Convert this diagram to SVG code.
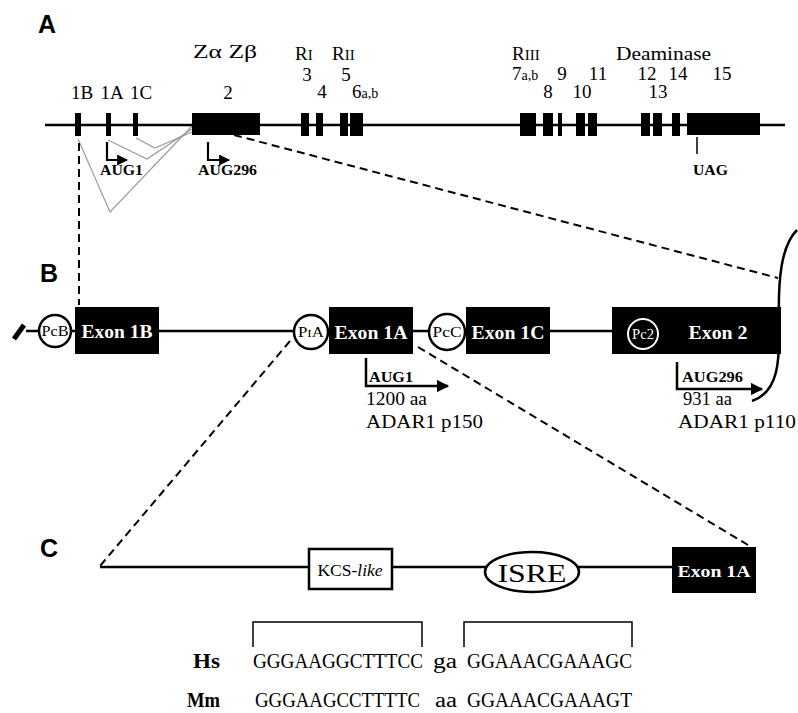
<svg xmlns="http://www.w3.org/2000/svg" width="798" height="713" viewBox="0 0 798 713">
<style>
.lbl{font-family:"Liberation Sans",Arial,sans-serif;font-weight:bold;font-size:25px;fill:#000}
.s{font-family:"Liberation Serif","Times New Roman",serif;fill:#000}
.n{font-size:19px}
.sm{font-size:14px}
.b{font-weight:bold}
.w{fill:#fff}
.ln{stroke:#000;stroke-width:2.5;fill:none}
.dash{stroke:#000;stroke-width:2;fill:none;stroke-dasharray:8 5}
.grey{stroke:#9a9a9a;stroke-width:1.2;fill:none}
.ex{fill:#000}
.circ{fill:#fff;stroke:#000;stroke-width:2.5}
</style>
<defs>
<marker id="ah" viewBox="0 0 10 10" refX="9" refY="5" markerWidth="5" markerHeight="5" orient="auto" markerUnits="strokeWidth">
<path d="M0,0 L10,5 L0,10 z" fill="#000"/>
</marker>
</defs>
<rect width="798" height="713" fill="#fff"/>

<!-- Panel labels -->
<text class="lbl" x="38" y="33">A</text>
<text class="lbl" x="40" y="282">B</text>
<text class="lbl" x="40" y="557">C</text>

<!-- connectors -->
<g id="connectors">
<path class="grey" d="M78,139 L110,212 L192,126"/>
<path class="grey" d="M108,140 L147,159 L192,129"/>
<path class="grey" d="M136,138 L155,148 L192,132"/>
<line class="dash" x1="79" y1="143" x2="79" y2="305"/>
<line class="dash" x1="234" y1="135" x2="778" y2="278"/>
<line class="dash" x1="290" y1="341" x2="100" y2="566"/>
<line class="dash" x1="418" y1="347" x2="748" y2="545"/>
</g>

<!-- Panel A -->
<g id="panelA">
<line class="ln" x1="45" y1="125" x2="785" y2="125"/>
<g id="exonA1B"><rect class="ex" x="75" y="113" width="6" height="23"/></g>
<g id="exonA1A"><rect class="ex" x="106" y="113" width="5" height="23"/></g>
<g id="exonA1C"><rect class="ex" x="133" y="113" width="5" height="23"/></g>
<g id="exonA2"><rect class="ex" x="192" y="113" width="68" height="22"/></g>
<g id="exonA3"><rect class="ex" x="301" y="113" width="8" height="23"/></g>
<g id="exonA4"><rect class="ex" x="316" y="113" width="7" height="23"/></g>
<g id="exonA5"><rect class="ex" x="340" y="113" width="8" height="23"/></g>
<g id="exonA6"><rect class="ex" x="350" y="113" width="13" height="23"/></g>
<g id="exonA7"><rect class="ex" x="520" y="113" width="16" height="23"/></g>
<g id="exonA8"><rect class="ex" x="543" y="113" width="10" height="23"/></g>
<g id="exonA9"><rect class="ex" x="558" y="113" width="4" height="23"/></g>
<g id="exonA10"><rect class="ex" x="576" y="113" width="9" height="23"/></g>
<g id="exonA11"><rect class="ex" x="588" y="113" width="9" height="23"/></g>
<g id="exonA12"><rect class="ex" x="641" y="113" width="9" height="23"/></g>
<g id="exonA13"><rect class="ex" x="653" y="113" width="9" height="23"/></g>
<g id="exonA14"><rect class="ex" x="672" y="113" width="8" height="23"/></g>
<g id="exonA15"><rect class="ex" x="687" y="113" width="73" height="22"/></g>

<text class="s n" x="193" y="58" textLength="64" lengthAdjust="spacingAndGlyphs">Zα  Zβ</text>
<text class="s n" x="82" y="99" text-anchor="middle">1B</text>
<text class="s n" x="112" y="99" text-anchor="middle">1A</text>
<text class="s n" x="141" y="99" text-anchor="middle">1C</text>
<text class="s n" x="228" y="99" text-anchor="middle">2</text>

<text class="s n" x="295" y="60">R<tspan font-size="15">I</tspan></text>
<text class="s n" x="332" y="60">R<tspan font-size="15">II</tspan></text>
<text class="s n" x="307" y="81" text-anchor="middle">3</text>
<text class="s n" x="322" y="98" text-anchor="middle">4</text>
<text class="s n" x="346" y="81" text-anchor="middle">5</text>
<text class="s n" x="352" y="98">6<tspan class="sm">a,b</tspan></text>

<text class="s n" x="512" y="60">R<tspan font-size="15">III</tspan></text>
<text class="s n" x="512" y="80">7<tspan class="sm">a,b</tspan></text>
<text class="s n" x="548" y="98" text-anchor="middle">8</text>
<text class="s n" x="562" y="80" text-anchor="middle">9</text>
<text class="s n" x="582" y="98" text-anchor="middle">10</text>
<text class="s n" x="598" y="80" text-anchor="middle">11</text>
<text class="s n" x="616" y="60" textLength="95" lengthAdjust="spacingAndGlyphs">Deaminase</text>
<text class="s n" x="647" y="80" text-anchor="middle">12</text>
<text class="s n" x="658" y="98" text-anchor="middle">13</text>
<text class="s n" x="678" y="80" text-anchor="middle">14</text>
<text class="s n" x="722" y="80" text-anchor="middle">15</text>

<g id="aug1A">
<path d="M107,142 V160 H127" stroke="#000" stroke-width="2.2" fill="none" marker-end="url(#ah)"/>
<text class="s b" x="100" y="175" font-size="14" textLength="43" lengthAdjust="spacingAndGlyphs">AUG1</text>
</g>
<g id="aug296A">
<path d="M208,142 V160 H229" stroke="#000" stroke-width="2.2" fill="none" marker-end="url(#ah)"/>
<text class="s b" x="198" y="175" font-size="14" textLength="59" lengthAdjust="spacingAndGlyphs">AUG296</text>
</g>
<g id="uag">
<line x1="697" y1="137" x2="697" y2="154" stroke="#000" stroke-width="1.5"/>
<text class="s b" x="693" y="175" font-size="14" textLength="35" lengthAdjust="spacingAndGlyphs">UAG</text>
</g>
</g>

<!-- Panel B -->
<g id="panelB">
<line class="ln" x1="26" y1="331" x2="612" y2="331"/>
<line x1="14" y1="339" x2="24" y2="325" stroke="#000" stroke-width="5"/>
<path d="M797,230 C781,246 778,280 779,320 C780,360 779,392 752,401" stroke="#000" stroke-width="2.5" fill="none"/>

<g id="PcB">
<circle class="circ" cx="55" cy="331" r="16"/>
<text class="s" x="55" y="336" font-size="14" text-anchor="middle" textLength="27" lengthAdjust="spacingAndGlyphs">PcB</text>
</g>
<g id="exonB1B">
<rect class="ex" x="75" y="307" width="84" height="47"/>
<text class="s b w" x="117" y="338" font-size="18" text-anchor="middle" textLength="71" lengthAdjust="spacingAndGlyphs">Exon 1B</text>
</g>
<g id="PIA">
<circle class="circ" cx="311" cy="332" r="17"/>
<text class="s" x="311" y="337" font-size="14" text-anchor="middle" textLength="26" lengthAdjust="spacingAndGlyphs">P<tspan font-size="11">I</tspan>A</text>
</g>
<g id="exonB1A">
<rect class="ex" x="329" y="307" width="84" height="47"/>
<text class="s b w" x="371" y="339" font-size="18" text-anchor="middle" textLength="73" lengthAdjust="spacingAndGlyphs">Exon 1A</text>
</g>
<g id="PcC">
<circle class="circ" cx="447" cy="332" r="18"/>
<text class="s" x="447" y="337" font-size="14" text-anchor="middle" textLength="29" lengthAdjust="spacingAndGlyphs">PcC</text>
</g>
<g id="exonB1C">
<rect class="ex" x="466" y="307" width="84" height="47"/>
<text class="s b w" x="508" y="339" font-size="18" text-anchor="middle" textLength="73" lengthAdjust="spacingAndGlyphs">Exon 1C</text>
</g>
<g id="exonB2">
<rect class="ex" x="612" y="307" width="169" height="47"/>
<circle cx="643" cy="334" r="15" fill="#000" stroke="#fff" stroke-width="2"/>
<text class="s w" x="643" y="339" font-size="14" text-anchor="middle" textLength="22" lengthAdjust="spacingAndGlyphs">Pc2</text>
<text class="s b w" x="718" y="339" font-size="18" text-anchor="middle" textLength="59" lengthAdjust="spacingAndGlyphs">Exon 2</text>
</g>

<g id="p150">
<path d="M366,358 V386 H448" stroke="#000" stroke-width="2.5" fill="none" marker-end="url(#ah)"/>
<text class="s b" x="369" y="382" font-size="14" textLength="44" lengthAdjust="spacingAndGlyphs">AUG1</text>
<text class="s n" x="366" y="405" textLength="61" lengthAdjust="spacingAndGlyphs">1200 aa</text>
<text class="s n" x="366" y="428" textLength="117" lengthAdjust="spacingAndGlyphs">ADAR1  p150</text>
</g>
<g id="p110">
<path d="M677,362 V389 H762" stroke="#000" stroke-width="2.5" fill="none" marker-end="url(#ah)"/>
<text class="s b" x="682" y="382" font-size="14" textLength="61" lengthAdjust="spacingAndGlyphs">AUG296</text>
<text class="s n" x="683" y="405" textLength="49" lengthAdjust="spacingAndGlyphs">931 aa</text>
<text class="s n" x="678" y="428" textLength="118" lengthAdjust="spacingAndGlyphs">ADAR1  p110</text>
</g>
</g>

<!-- Panel C -->
<g id="panelC">
<line class="ln" x1="100" y1="567" x2="672" y2="567"/>
<g id="kcs">
<rect x="309" y="549" width="83" height="40" fill="#fff" stroke="#000" stroke-width="2.5"/>
<text class="s" x="350" y="576" font-size="17" text-anchor="middle" textLength="65" lengthAdjust="spacingAndGlyphs">KCS-<tspan font-style="italic">like</tspan></text>
</g>
<g id="isre">
<ellipse cx="532" cy="572" rx="47" ry="20" fill="#fff" stroke="#000" stroke-width="2.5"/>
<text class="s" x="532" y="582" font-size="26" text-anchor="middle" textLength="69" lengthAdjust="spacingAndGlyphs">ISRE</text>
</g>
<g id="exonC1A">
<rect class="ex" x="672" y="547" width="84" height="46"/>
<text class="s b w" x="714" y="577" font-size="17" text-anchor="middle" textLength="73" lengthAdjust="spacingAndGlyphs">Exon 1A</text>
</g>
<path d="M253,647 V622 H422 V647" stroke="#000" stroke-width="1.5" fill="none"/>
<path d="M464,647 V622 H632 V647" stroke="#000" stroke-width="1.5" fill="none"/>
<text class="s b" x="193" y="668" font-size="22" textLength="27" lengthAdjust="spacingAndGlyphs">Hs</text>
<text class="s" x="253" y="668" font-size="20" textLength="170" lengthAdjust="spacingAndGlyphs">GGGAAGGCTTTCC</text>
<text class="s" x="433" y="668" font-size="20" textLength="24" lengthAdjust="spacingAndGlyphs">ga</text>
<text class="s" x="467" y="668" font-size="20" textLength="165" lengthAdjust="spacingAndGlyphs">GGAAACGAAAGC</text>
<text class="s b" x="187" y="707" font-size="22" textLength="33" lengthAdjust="spacingAndGlyphs">Mm</text>
<text class="s" x="255" y="707" font-size="20" textLength="165" lengthAdjust="spacingAndGlyphs">GGGAAGCCTTTTC</text>
<text class="s" x="435" y="707" font-size="20" textLength="22" lengthAdjust="spacingAndGlyphs">aa</text>
<text class="s" x="467" y="707" font-size="20" textLength="165" lengthAdjust="spacingAndGlyphs">GGAAACGAAAGT</text>
</g>
</svg>
